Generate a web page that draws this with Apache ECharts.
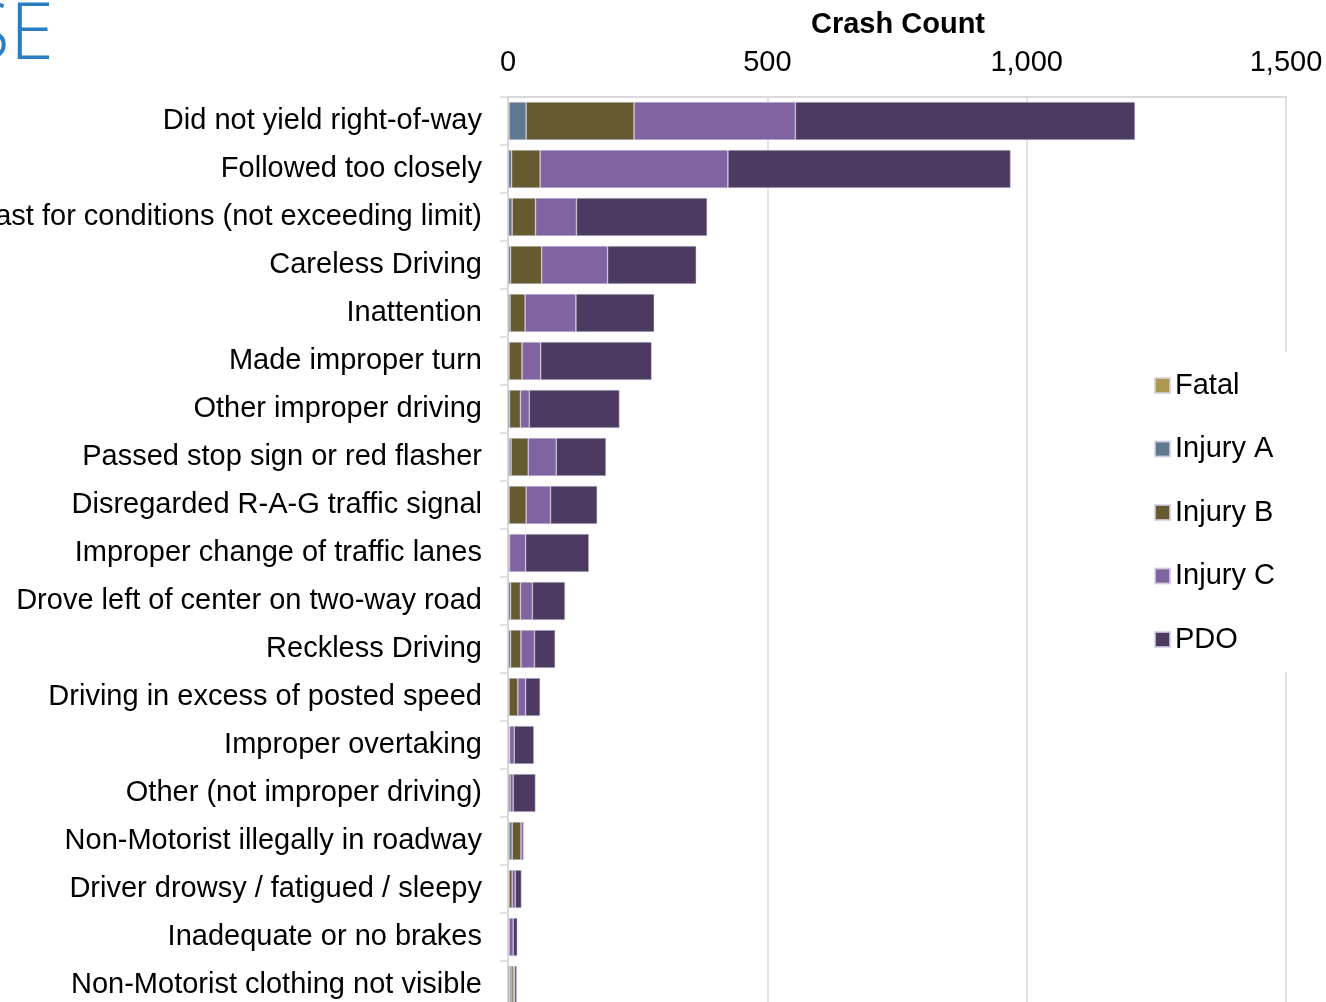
<!DOCTYPE html>
<html>
<head>
<meta charset="utf-8">
<title>Crash Count by Contributing Cause</title>
<script src="https://cdn.jsdelivr.net/npm/echarts@6/dist/echarts.min.js"></script>
<style>
  html, body { margin: 0; padding: 0; background: #fff; }
  #chart { width: 1326px; height: 1002px; }
</style>
</head>
<body>
<div id="chart"></div>
<script>
// Contributing causes, listed top to bottom
const causes = [
  'Did not yield right-of-way',
  'Followed too closely',
  'Driving too fast for conditions (not exceeding limit)',
  'Careless Driving',
  'Inattention',
  'Made improper turn',
  'Other improper driving',
  'Passed stop sign or red flasher',
  'Disregarded R-A-G traffic signal',
  'Improper change of traffic lanes',
  'Drove left of center on two-way road',
  'Reckless Driving',
  'Driving in excess of posted speed',
  'Improper overtaking',
  'Other (not improper driving)',
  'Non-Motorist illegally in roadway',
  'Driver drowsy / fatigued / sleepy',
  'Inadequate or no brakes',
  'Non-Motorist clothing not visible'
];

// Crash counts by severity, one value per cause
const fatal   = [2, 1, 1, 1, 1, 0, 0, 2, 0, 0, 1, 1, 1, 0, 1, 2, 1, 0, 3];
const injuryA = [33, 6, 7, 4, 3, 2, 3, 4, 2, 1, 4, 4, 1, 2, 0, 6, 1, 1, 3];
const injuryB = [208, 55, 45, 60, 29, 25, 21, 33, 33, 2, 19, 20, 17, 1, 3, 17, 6, 1, 4];
const injuryC = [311, 362, 79, 127, 98, 36, 17, 54, 47, 31, 23, 26, 15, 9, 6, 5, 6, 8, 3];
const pdo     = [655, 545, 252, 171, 151, 214, 174, 96, 90, 122, 63, 40, 28, 38, 43, 1, 12, 8, 4];

// Horizontal axis ticks
const xTicks = [0, 500, 1000, 1500];

const severities = [
  { name: 'Fatal',    data: fatal,   color: '#ac984e' },
  { name: 'Injury A', data: injuryA, color: '#5f7890' },
  { name: 'Injury B', data: injuryB, color: '#665a30' },
  { name: 'Injury C', data: injuryC, color: '#8064a2' },
  { name: 'PDO',      data: pdo,     color: '#4c3a60' }
];

const FONT = '"Liberation Sans", Arial, sans-serif';
const SIZE = 29;
const chart = echarts.init(document.getElementById('chart'), null, { renderer: 'canvas' });

chart.setOption({
  animation: false,
  backgroundColor: '#ffffff',
  title: {
    text: 'Crash Count',
    left: 893,
    textAlign: 'center',
    top: 5,
    textStyle: { fontFamily: FONT, fontSize: SIZE, fontWeight: 'bold', color: '#000' }
  },
  graphic: [{
    type: 'text',
    right: 1272,
    top: -4,
    z: 10,
    style: {
      text: 'CAUSE',
      font: '300 80px "Open Sans", "Noto Sans", sans-serif',
      fill: '#2a7dc0'
    }
  }],
  grid: { left: 508, top: 97, width: 778, height: 912, outerBoundsMode: 'none', containLabel: false },
  xAxis: {
    type: 'value',
    position: 'top',
    min: xTicks[0],
    max: xTicks[xTicks.length - 1],
    interval: xTicks[1] - xTicks[0],
    axisLine: { show: true, lineStyle: { color: '#d9d9d9', width: 2 } },
    axisTick: { show: false },
    splitLine: { show: true, lineStyle: { color: '#d9d9d9', width: 1.5 } },
    axisLabel: {
      fontFamily: FONT, fontSize: SIZE, color: '#000', margin: 20,
      formatter: v => v.toLocaleString('en-US')
    }
  },
  yAxis: {
    type: 'category',
    inverse: true,
    data: causes,
    axisLine: { show: true, lineStyle: { color: '#d9d9d9', width: 2 } },
    axisTick: { show: true, length: 8, lineStyle: { color: '#d9d9d9', width: 1.5 } },
    axisLabel: { fontFamily: FONT, fontSize: SIZE, color: '#000', margin: 26, padding: [4, 0, 0, 0] }
  },
  legend: {
    orient: 'vertical',
    left: 1145,
    top: 352,
    padding: [19, 60, 18, 9],
    backgroundColor: '#ffffff',
    itemWidth: 15,
    itemHeight: 15,
    itemGap: 34.5,
    icon: 'rect',
    z: 20,
    textStyle: { fontFamily: FONT, fontSize: SIZE, color: '#000', lineHeight: 27 },
    data: severities.map(s => s.name)
  },
  series: severities.map(s => ({
    name: s.name,
    type: 'bar',
    stack: 'total',
    barWidth: 38,
    data: s.data,
    itemStyle: { color: s.color, borderColor: 'rgba(214,208,226,0.8)', borderWidth: 0.6 },
    emphasis: { disabled: true }
  }))
});
</script>
</body>
</html>
